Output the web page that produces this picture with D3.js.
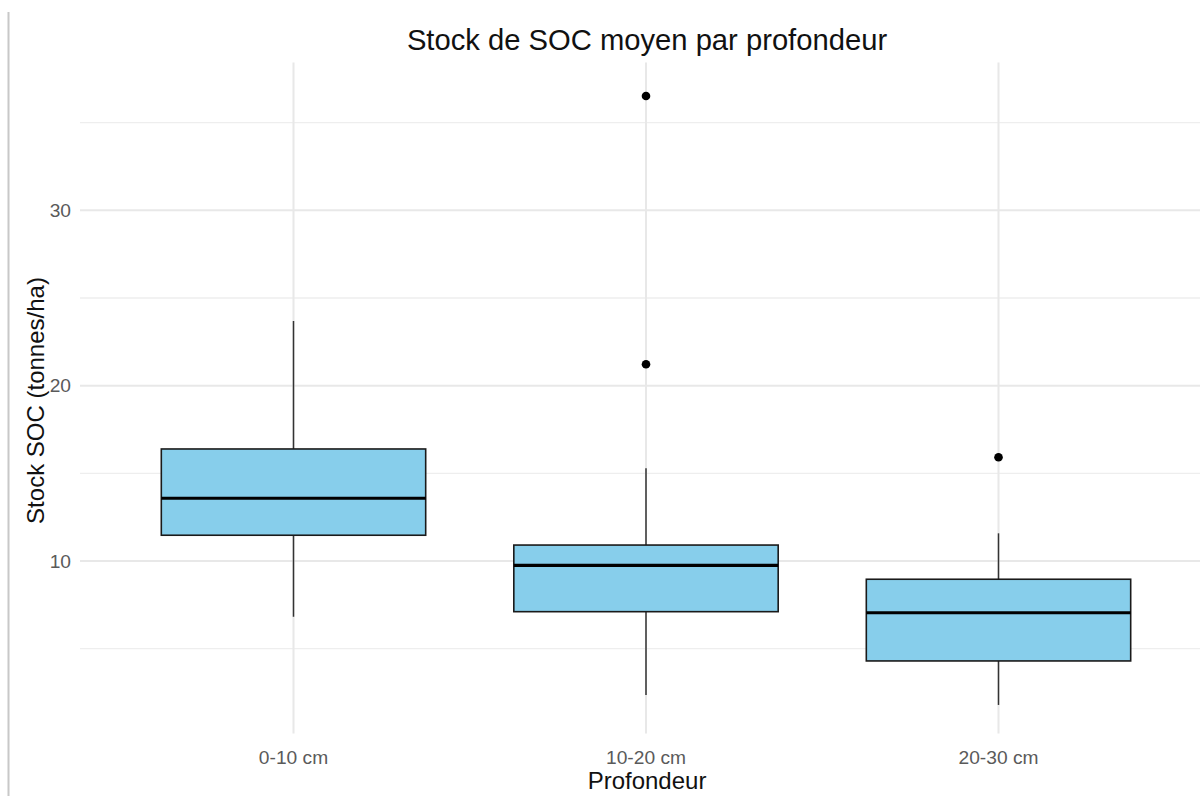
<!DOCTYPE html>
<html>
<head>
<meta charset="utf-8">
<script src="https://cdn.jsdelivr.net/npm/d3@7"></script>
<style>
  body { margin: 0; background: #fff; }
  svg { display: block; font-family: "Liberation Sans", Arial, sans-serif; }
</style>
</head>
<body>
<script>
// data
var depths = ["0-10 cm", "10-20 cm", "20-30 cm"];
var lowerWhisker = [6.82, 2.36, 1.79];
var q1 = [11.47, 7.11, 4.30];
var medians = [13.58, 9.75, 7.05];
var q3 = [16.39, 10.91, 8.96];
var upperWhisker = [23.69, 15.29, 11.58];
var outliers = [[], [21.22, 36.52], [15.92]];
var yTicks = [10, 20, 30];
var yMinor = [5, 15, 25, 35];

var W = 1200, H = 796;
var panel = {left: 82, right: 1210, top: 65.6, bottom: 735.4};

var svg = d3.select("body").append("svg")
    .attr("width", W)
    .attr("height", H);

// little frame line on the left of the screenshot
svg.append("line")
    .attr("x1", 8.5).attr("x2", 8.5)
    .attr("y1", 12).attr("y2", H)
    .attr("stroke", "#c8c8c8")
    .attr("stroke-width", 2);

// y domain like ggplot: data range + 5% each side
var allVals = lowerWhisker.concat(upperWhisker, d3.merge(outliers));
var lo = d3.min(allVals), hi = d3.max(allVals), r = hi - lo;

var y = d3.scaleLinear()
    .domain([lo - 0.05 * r, hi + 0.05 * r])
    .range([panel.bottom, panel.top]);

var x = d3.scalePoint()
    .domain(depths)
    .range([panel.left, panel.right])
    .padding(0.6);

var boxW = x.step() * 0.75;

// grid
var grid = svg.append("g");
grid.selectAll(".minor")
    .data(yMinor)
    .enter().append("line")
    .attr("x1", panel.left - 2).attr("x2", W)
    .attr("y1", function(d) { return y(d); })
    .attr("y2", function(d) { return y(d); })
    .attr("stroke", "#eeeeee")
    .attr("stroke-width", 1.3);

grid.selectAll(".major")
    .data(yTicks)
    .enter().append("line")
    .attr("x1", panel.left - 2).attr("x2", W)
    .attr("y1", function(d) { return y(d); })
    .attr("y2", function(d) { return y(d); })
    .attr("stroke", "#e8e8e8")
    .attr("stroke-width", 2);

grid.selectAll(".vert")
    .data(depths)
    .enter().append("line")
    .attr("x1", function(d) { return x(d); })
    .attr("x2", function(d) { return x(d); })
    .attr("y1", panel.top - 3).attr("y2", panel.bottom - 2)
    .attr("stroke", "#e8e8e8")
    .attr("stroke-width", 2);

// boxes
var boxes = svg.selectAll(".box")
    .data(depths)
    .enter().append("g")
    .attr("class", "box");

boxes.append("line")
    .attr("x1", function(d) { return x(d); })
    .attr("x2", function(d) { return x(d); })
    .attr("y1", function(d, i) { return y(upperWhisker[i]); })
    .attr("y2", function(d, i) { return y(q3[i]); })
    .attr("stroke", "#333")
    .attr("stroke-width", 1.5);

boxes.append("line")
    .attr("x1", function(d) { return x(d); })
    .attr("x2", function(d) { return x(d); })
    .attr("y1", function(d, i) { return y(q1[i]); })
    .attr("y2", function(d, i) { return y(lowerWhisker[i]); })
    .attr("stroke", "#333")
    .attr("stroke-width", 1.5);

boxes.append("rect")
    .attr("x", function(d) { return x(d) - boxW / 2; })
    .attr("width", boxW)
    .attr("y", function(d, i) { return y(q3[i]); })
    .attr("height", function(d, i) { return y(q1[i]) - y(q3[i]); })
    .attr("fill", "#87ceeb")
    .attr("stroke", "#1a1a1a")
    .attr("stroke-width", 1.6);

boxes.append("line")
    .attr("x1", function(d) { return x(d) - boxW / 2; })
    .attr("x2", function(d) { return x(d) + boxW / 2; })
    .attr("y1", function(d, i) { return y(medians[i]); })
    .attr("y2", function(d, i) { return y(medians[i]); })
    .attr("stroke", "#000")
    .attr("stroke-width", 3.2);

boxes.selectAll(".out")
    .data(function(d, i) { return outliers[i].map(function(v) { return [d, v]; }); })
    .enter().append("circle")
    .attr("cx", function(d) { return x(d[0]); })
    .attr("cy", function(d) { return y(d[1]); })
    .attr("r", 4.3)
    .attr("fill", "#000");

// tick labels
svg.selectAll(".ytick")
    .data(yTicks)
    .enter().append("text")
    .attr("x", 71)
    .attr("y", function(d) { return y(d); })
    .attr("dy", "0.35em")
    .attr("text-anchor", "end")
    .attr("font-size", 19.2)
    .attr("fill", "#5a5a5a")
    .text(function(d) { return d; });

svg.selectAll(".xtick")
    .data(depths)
    .enter().append("text")
    .attr("x", function(d) { return x(d); })
    .attr("y", 764)
    .attr("text-anchor", "middle")
    .attr("font-size", 19.2)
    .attr("fill", "#5a5a5a")
    .text(function(d) { return d; });

// titles
svg.append("text")
    .attr("x", 647)
    .attr("y", 50)
    .attr("text-anchor", "middle")
    .attr("font-size", 29.2)
    .attr("fill", "#111")
    .text("Stock de SOC moyen par profondeur");

svg.append("text")
    .attr("x", 647)
    .attr("y", 789)
    .attr("text-anchor", "middle")
    .attr("font-size", 24)
    .attr("fill", "#111")
    .text("Profondeur");

svg.append("text")
    .attr("transform", "translate(44," + ((panel.top + panel.bottom) / 2) + ") rotate(-90)")
    .attr("text-anchor", "middle")
    .attr("font-size", 24)
    .attr("fill", "#111")
    .text("Stock SOC (tonnes/ha)");
</script>
</body>
</html>
